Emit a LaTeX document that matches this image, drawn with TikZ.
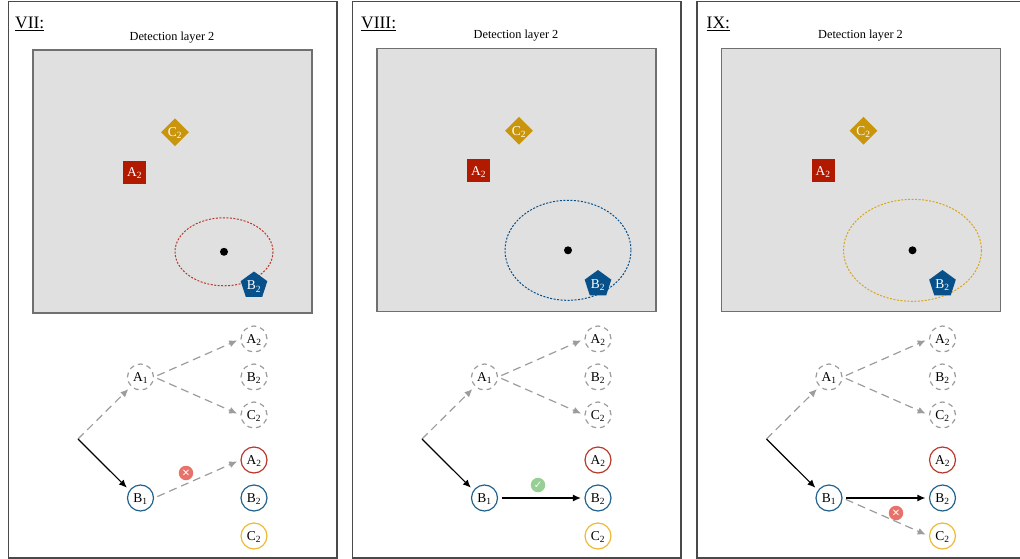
\documentclass[tikz,border=0pt]{standalone}
\usepackage{fontspec}
\setmainfont{Liberation Serif}
\newfontfamily\symbolfont{DejaVu Sans}
\usetikzlibrary{arrows.meta,shapes.geometric}

\definecolor{framegray}{HTML}{4A4A4A}
\definecolor{layergray}{HTML}{E0E0E0}
\definecolor{layerline}{HTML}{707070}
\definecolor{arrowgray}{HTML}{9C9C9C}
\definecolor{boxred}{HTML}{B21A00}
\definecolor{boxgold}{HTML}{C9950C}
\definecolor{boxblue}{HTML}{07508A}
\definecolor{ringred}{HTML}{B8392A}
\definecolor{ringblue}{HTML}{22628F}
\definecolor{ringgold}{HTML}{EDBB33}
\definecolor{dashgold}{HTML}{D9A520}
\definecolor{badgered}{HTML}{E8716A}
\definecolor{badgegreen}{HTML}{98CF95}

\tikzset{
    txt/.style={font=\fontsize{13.5}{15}\selectfont, text depth=0pt},
    marker/.style={txt, text=white, inner sep=0pt, minimum size=#1},
    treenode/.style={circle, txt, draw=#1, line width=1.2pt, minimum size=26pt, inner sep=0pt},
    hidden/.style={treenode=arrowgray, dash pattern=on 5pt off 4pt},
    kept/.style={black, line width=1.2pt, -{Latex[length=8pt,width=7pt]}, shorten >=3.5pt, shorten <=3.5pt},
    dropped/.style={arrowgray, line width=1.2pt, dash pattern=on 8pt off 5pt, -{Latex[length=8pt,width=7pt]}, shorten >=3.5pt, shorten <=3.5pt},
    badge/.style={circle, fill=#1, text=white, inner sep=0pt, minimum size=14.5pt, font=\symbolfont\fontsize{10}{10}\selectfont\bfseries}
}

\begin{document}
\begin{tikzpicture}[x=1pt,y=-1pt]

    \useasboundingbox (0,0) rectangle (1020,559);

    % the three panels: same layer and same tree, only the search ellipse changes
    \foreach \p/\lab/\dx/\dy/\tx/\rx/\ry/\col in {vii/VII/0/0/15/49/34/ringred, viii/VIII/344/-1.5/17/63/50/boxblue, ix/IX/688.5/-1.5/18/69/51/dashgold} {
        \begin{scope}[shift={(\dx,0)}]

            % frame and title
            \draw[framegray, line width=1.4pt] (8.5,1.5) rectangle (337,558);
            \node[font=\fontsize{17.5}{20}\selectfont, anchor=base west, inner sep=0pt] (title\p) at (\tx,29) {\underline{\lab:}};

            % detection layer
            \begin{scope}[shift={(0,\dy)}]
                \node[font=\fontsize{12.3}{14}\selectfont] (layer\p) at (172,37.5) {Detection layer 2};
                \draw[layerline, fill=layergray, line width=1.2pt] (33,50) rectangle (312,313);
                \node[marker=28pt, shape=diamond, fill=boxgold] (cbox\p) at (175,132.3) {C\textsubscript{2}};
                \node[marker=23pt, fill=boxred] (abox\p) at (134.5,172.3) {A\textsubscript{2}};
                \draw[\col, line width=1pt, dash pattern=on 2pt off 1.5pt] (224,251.8) ellipse ({\rx} and {\ry});
                \fill (224,251.8) circle (4);
                \node[marker=28pt, shape=regular polygon, regular polygon sides=5, fill=boxblue] (bbox\p) at (254,285.5) {B\textsubscript{2}};
            \end{scope}

            % tree
            \coordinate (root\p) at (78,439);
            \node[hidden] (a1\p) at (140.5,377) {A\textsubscript{1}};
            \node[treenode=ringblue] (b1\p) at (140.5,498) {B\textsubscript{1}};
            \node[hidden] (aa\p) at (254,339) {A\textsubscript{2}};
            \node[hidden] (ab\p) at (254,377) {B\textsubscript{2}};
            \node[hidden] (ac\p) at (254,415) {C\textsubscript{2}};
            \node[treenode=ringred] (ba\p) at (254,460) {A\textsubscript{2}};
            \node[treenode=ringblue] (bb\p) at (254,498) {B\textsubscript{2}};
            \node[treenode=ringgold] (bc\p) at (254,536) {C\textsubscript{2}};

            % edges every panel has
            \draw[dropped, shorten <=0pt] (root\p) -- (a1\p.225);
            \draw[kept, shorten <=0pt] (root\p) -- (b1\p.145);
            \draw[dropped] (a1\p.east) -- (aa\p.west);
            \draw[dropped] (a1\p.east) -- (ac\p.west);

        \end{scope}
    }

    % panel VII
    \draw[dropped] (b1vii.east) -- (bavii.west);
    \node[badge=badgered] (crossvii) at (186,473) {✕};

    % panel VIII
    \draw[kept] (b1viii.east) -- (bbviii.west);
    \node[badge=badgegreen] (tickviii) at (538,485) {✓};

    % panel IX
    \draw[kept] (b1ix.east) -- (bbix.west);
    \draw[dropped] (b1ix.east) -- (bcix.west);
    \node[badge=badgered] (crossix) at (896,513) {✕};

\end{tikzpicture}
\end{document}
